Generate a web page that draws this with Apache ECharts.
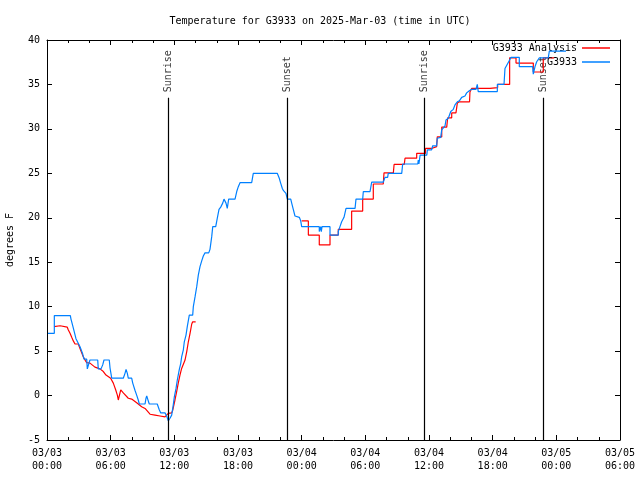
<!DOCTYPE html>
<html><head><meta charset="utf-8">
<script src="https://cdn.jsdelivr.net/npm/echarts@6/dist/echarts.min.js"></script>
<style>html,body{margin:0;padding:0;background:#fff}#c{width:640px;height:480px}</style>
</head><body><div id="c"></div>
<script>
const titleText = 'Temperature for G3933 on 2025-Mar-03 (time in UTC)';
const yAxisName = 'degrees F';
const redName = 'G3933 Analysis';
const blueName = 'G3933';
// hours since 2025-03-03 00:00 UTC
const blueHours = [0.09,0.69,0.69,2.20,2.26,2.36,2.48,2.50,2.73,3.11,3.36,3.49,3.74,3.80,3.93,4.05,4.78,4.83,5.09,5.25,5.37,5.87,5.94,6.10,7.19,7.35,7.45,7.57,7.66,7.98,8.08,8.29,8.45,8.60,8.70,9.24,9.33,9.40,9.49,9.64,10.39,10.58,10.72,11.12,11.28,11.43,11.59,11.75,11.90,12.00,12.16,12.28,12.47,12.60,12.69,12.85,12.94,13.10,13.22,13.41,13.73,13.79,13.95,14.11,14.26,14.42,14.58,14.73,14.89,15.24,15.36,15.52,15.62,15.90,16.05,16.21,16.37,16.56,16.68,16.87,16.99,17.12,17.72,17.88,18.03,18.19,19.29,19.44,21.70,21.89,22.02,22.18,22.29,22.52,22.65,22.97,23.06,23.21,23.37,23.53,23.78,23.91,24.00,25.66,25.66,25.73,25.79,25.85,25.92,26.67,26.67,27.45,27.45,27.61,27.77,27.99,28.18,29.03,29.12,29.75,29.81,30.44,30.60,31.69,31.85,32.10,32.16,33.43,33.52,34.94,34.99,35.05,35.16,35.79,35.85,36.25,36.35,36.72,36.78,37.10,37.20,37.51,37.60,37.82,38.05,38.29,38.45,38.67,38.86,39.08,39.39,39.55,39.80,40.02,40.43,40.55,40.64,42.44,42.44,43.07,43.16,43.74,44.51,44.51,45.77,45.83,45.99,46.15,46.40,47.24,47.34,48.91];
const blueTemps = [7.0,7.0,9.0,9.0,8.6,8.15,8.15,7.5,6.4,5.5,4.7,4.1,4.1,3.0,3.55,4.0,4.0,3.0,3.0,3.45,4.0,4.0,3.1,1.95,1.95,2.5,2.95,2.5,1.95,1.95,1.4,0.6,0.05,-0.5,-0.95,-0.95,-0.3,-0.05,-0.4,-0.95,-0.95,-1.6,-1.95,-1.95,-2.3,-2.85,-2.55,-2.2,-1.05,-0.15,0.8,1.75,2.95,3.6,4.35,5.15,6.05,6.8,7.75,9.05,9.05,10.0,11.1,12.25,13.55,14.5,15.15,15.7,16.05,16.05,16.45,17.85,19.0,19.0,19.95,20.95,21.2,21.65,22.1,21.65,21.05,22.1,22.1,22.95,23.5,23.95,23.95,25.0,25.0,24.45,23.9,23.3,23.05,22.75,22.1,22.1,21.65,20.95,20.2,20.05,20.05,19.65,19.0,19.0,18.45,18.45,19.0,18.45,19.0,19.0,18.05,18.05,18.45,19.0,19.55,20.05,21.05,21.05,22.1,22.1,22.95,22.95,24.0,24.0,24.55,24.55,25.0,25.0,26.05,26.05,26.5,26.05,27.05,27.05,27.65,27.65,28.1,28.1,28.95,29.05,29.9,30.35,31.0,31.2,31.95,32.2,32.7,33.05,33.15,33.55,33.7,34.05,34.3,34.45,34.45,35.0,34.2,34.2,35.0,35.0,36.8,38.05,38.05,37.0,37.0,36.15,37.0,37.55,38.0,38.0,38.75,38.75];
const redHours = [0.66,0.75,1.23,1.27,1.91,2.00,2.17,2.33,2.48,2.64,2.95,3.11,3.27,3.42,3.58,3.74,4.05,4.21,4.52,4.99,5.31,5.56,6.00,6.25,6.47,6.63,6.72,6.81,6.95,7.19,7.66,7.98,8.45,8.92,9.24,9.71,10.18,10.65,11.12,11.28,11.43,11.75,11.85,12.06,12.22,12.37,12.53,12.69,12.85,13.01,13.17,13.32,13.48,13.64,13.73,14.01,null,24.00,24.63,24.63,25.66,25.66,26.67,26.67,27.45,27.45,28.71,28.71,29.75,29.75,30.75,30.75,31.69,31.76,32.64,32.71,33.67,33.74,34.84,34.84,35.67,35.67,36.25,36.25,36.72,36.78,37.20,37.20,37.67,37.76,38.14,38.14,38.54,38.67,38.86,39.82,39.86,40.02,41.75,41.75,42.47,42.47,43.60,43.60,44.20,44.20,45.83,45.83,46.77,46.77,47.78];
const redTemps = [7.75,7.85,7.85,7.7,7.7,7.4,7.0,6.55,6.15,5.8,5.8,5.3,4.8,4.35,4.0,3.7,3.65,3.45,3.2,3.0,2.7,2.3,1.95,1.4,0.65,0.05,-0.5,-0.5,0.65,0.3,-0.3,-0.4,-0.8,-1.25,-1.45,-2.1,-2.2,-2.3,-2.4,-2.2,-2.0,-1.95,-1.65,-0.5,0.45,1.4,2.3,3.05,3.15,4.0,4.95,6.05,7.0,8.05,8.3,8.3,null,19.65,19.65,18.05,18.05,16.95,16.95,18.05,18.05,18.7,18.7,20.75,20.75,22.1,22.1,23.8,23.8,25.05,25.05,26.0,26.0,26.7,26.7,27.25,27.25,27.8,27.8,28.0,28.0,29.1,29.1,30.2,30.2,31.25,31.25,31.8,31.8,32.9,33.05,33.05,34.15,34.55,34.55,34.65,34.65,35.0,35.0,38.0,38.0,37.4,37.4,36.4,36.4,38.0,38.0];
const sunHours = [11.43, 22.65, 35.56, 46.77];
const sunNames = ['Sunrise', 'Sunset', 'Sunrise', 'Sunset'];
const sunLineTop = 33.5;
const sunLabelY = 34.0;

const FONT = 'DejaVu Sans Mono';
function pairs(hs, vs) { return hs.map((h, i) => (h === null ? ['-', '-'] : [h, vs[i]])); }
function fmtX(v) {
  const d = 3 + Math.floor(v / 24), hh = v % 24;
  return '03/' + String(d).padStart(2, '0') + '\n' + String(hh).padStart(2, '0') + ':00';
}
const axisBase = {
  type: 'value', min: 0, max: 54, interval: 6,
  axisLine: { show: true, onZero: false, lineStyle: { color: '#000', width: 1 } },
  axisTick: { show: true, inside: true, length: 5, lineStyle: { color: '#000', width: 1 } },
  minorTick: { show: true, splitNumber: 3, length: 3, lineStyle: { color: '#000', width: 1 } },
  splitLine: { show: false }, minorSplitLine: { show: false }
};
const yBase = {
  type: 'value', min: -5, max: 40, interval: 5,
  axisLine: { show: true, onZero: false, lineStyle: { color: '#000', width: 1 } },
  axisTick: { show: true, inside: true, length: 5, lineStyle: { color: '#000', width: 1 } },
  splitLine: { show: false }
};
const chart = echarts.init(document.getElementById('c'), null, { renderer: 'canvas' });
chart.setOption({
  animation: false,
  backgroundColor: '#fff',
  textStyle: { fontFamily: FONT },
  title: { text: titleText, left: 'center', top: 11, textStyle: { fontFamily: FONT, fontSize: 10, fontWeight: 'normal', color: '#000' } },
  grid: { left: 47, right: 20, top: 40, bottom: 40, containLabel: false, outerBoundsMode: 'none', show: false },
  legend: {
    data: [redName, blueName], orient: 'vertical', right: 30, top: 43, align: 'right',
    icon: 'rect', itemWidth: 28, itemHeight: 1.5, itemGap: 4, padding: 0,
    textStyle: { fontFamily: FONT, fontSize: 10, color: '#000' }
  },
  xAxis: [
    Object.assign({}, axisBase, { position: 'bottom', axisLabel: { formatter: fmtX, color: '#000', fontFamily: FONT, fontSize: 10, lineHeight: 13, margin: 7 } }),
    Object.assign({}, axisBase, { position: 'top', axisLabel: { show: false } })
  ],
  yAxis: [
    Object.assign({}, yBase, { position: 'left', name: yAxisName, nameLocation: 'middle', nameRotate: 90, nameGap: 32,
      nameTextStyle: { fontFamily: FONT, fontSize: 10, color: '#000' },
      axisLabel: { color: '#000', fontFamily: FONT, fontSize: 10, margin: 7 } }),
    Object.assign({}, yBase, { position: 'right', axisLabel: { show: false } })
  ],
  series: [
    { name: redName, type: 'line', data: pairs(redHours, redTemps), color: '#ff0000', symbol: 'none', showSymbol: false,
      lineStyle: { color: '#ff0000', width: 1.2 }, connectNulls: false, z: 3 },
    { name: blueName, type: 'line', data: pairs(blueHours, blueTemps), color: '#0080ff', symbol: 'none', showSymbol: false,
      lineStyle: { color: '#0080ff', width: 1.2 }, z: 4 },
    { type: 'line', data: [], symbol: 'none', silent: true,
      markLine: { silent: true, symbol: ['none', 'none'], animation: false, label: { show: false },
        lineStyle: { color: '#000', width: 1.2, type: 'solid' },
        data: sunHours.map(h => [{ coord: [h, -5] }, { coord: [h, sunLineTop] }]) } },
    { type: 'scatter', symbolSize: 0, silent: true,
      data: sunHours.map((h, i) => ({ value: [h, sunLabelY], name: sunNames[i] })),
      label: { show: true, position: 'inside', formatter: p => p.name, rotate: 90, align: 'left', verticalAlign: 'middle',
        offset: [1, 0], fontFamily: FONT, fontSize: 10, color: '#000' } }
  ]
});
</script></body></html>
